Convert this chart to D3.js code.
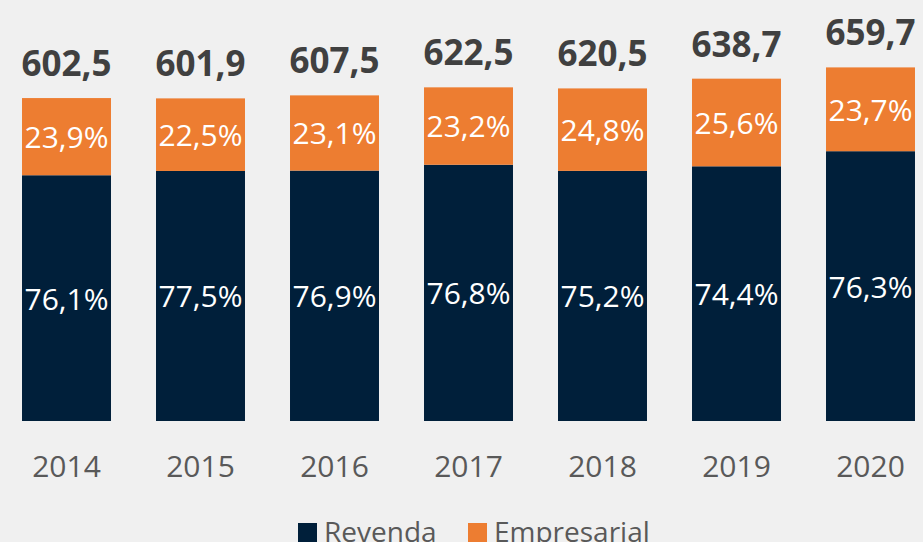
<!DOCTYPE html>
<html>
<head>
<meta charset="utf-8">
<script src="https://cdn.jsdelivr.net/npm/d3@7"></script>
<style>
  body { margin: 0; background: #f0f0f0; }
  svg { display: block; font-family: "Open Sans", sans-serif; }
</style>
</head>
<body>
<div id="chart"></div>
<script>
const width = 923;
const height = 542;

// data
const years = ["2014", "2015", "2016", "2017", "2018", "2019", "2020"];
const totals = [602.5, 601.9, 607.5, 622.5, 620.5, 638.7, 659.7];
const revendaPct = [76.1, 77.5, 76.9, 76.8, 75.2, 74.4, 76.3];
const empresarialPct = [23.9, 22.5, 23.1, 23.2, 24.8, 25.6, 23.7];
const seriesNames = ["Revenda", "Empresarial"];
const colors = ["#001f3a", "#ed7d31"];

const fmt = v => v.toFixed(1).replace(".", ",");

const rows = years.map((y, i) => ({
  year: y,
  total: totals[i],
  Revenda: totals[i] * revendaPct[i] / 100,
  Empresarial: totals[i] * empresarialPct[i] / 100,
  pct: { Revenda: revendaPct[i], Empresarial: empresarialPct[i] }
}));

const svg = d3.select("#chart").append("svg")
  .attr("width", width)
  .attr("height", height);

const x = d3.scaleBand()
  .domain(years)
  .range([-0.5, 937.5])
  .paddingInner(0.336)
  .paddingOuter(0.168);

const y = d3.scaleLinear()
  .domain([0, 659.7])
  .range([421, 67.4]);

const stack = d3.stack().keys(seriesNames);
const layers = stack(rows);

const layerG = svg.selectAll("g.layer")
  .data(layers)
  .enter().append("g")
  .attr("class", "layer")
  .attr("fill", (d, i) => colors[i]);

layerG.selectAll("rect")
  .data(d => d)
  .enter().append("rect")
  .attr("x", d => x(d.data.year))
  .attr("y", d => y(d[1]))
  .attr("width", x.bandwidth())
  .attr("height", d => y(d[0]) - y(d[1]));

// percentage labels
layers.forEach(layer => {
  svg.append("g").selectAll("text")
    .data(layer)
    .enter().append("text")
    .attr("x", d => x(d.data.year) + x.bandwidth() / 2)
    .attr("y", d => (y(d[0]) + y(d[1])) / 2)
    .attr("dy", "0.38em")
    .attr("text-anchor", "middle")
    .attr("fill", "#ffffff")
    .style("font-size", "30px")
    .text(d => fmt(d.data.pct[layer.key]) + "%");
});

// totals
svg.append("g").selectAll("text")
  .data(rows)
  .enter().append("text")
  .attr("x", d => x(d.year) + x.bandwidth() / 2)
  .attr("y", d => y(d.total) - 22)
  .attr("text-anchor", "middle")
  .attr("fill", "#404040")
  .style("font-size", "35px")
  .style("font-weight", "bold")
  .text(d => fmt(d.total));

// x axis
const xAxis = svg.append("g")
  .attr("transform", "translate(0,421)")
  .call(d3.axisBottom(x).tickSize(0).tickPadding(35));
xAxis.select(".domain").remove();
xAxis.selectAll("text")
  .attr("fill", "#595959")
  .style("font-size", "30px")
  .style("font-family", "'Open Sans', sans-serif");

// legend
const legend = svg.append("g");
const legendX = [298, 468];
seriesNames.forEach((name, i) => {
  legend.append("rect")
    .attr("x", legendX[i])
    .attr("y", 523)
    .attr("width", 19)
    .attr("height", 19)
    .attr("fill", colors[i]);
  legend.append("text")
    .attr("x", legendX[i] + 26)
    .attr("y", 542)
    .attr("fill", "#595959")
    .style("font-size", "28px")
    .text(name);
});
</script>
</body>
</html>
